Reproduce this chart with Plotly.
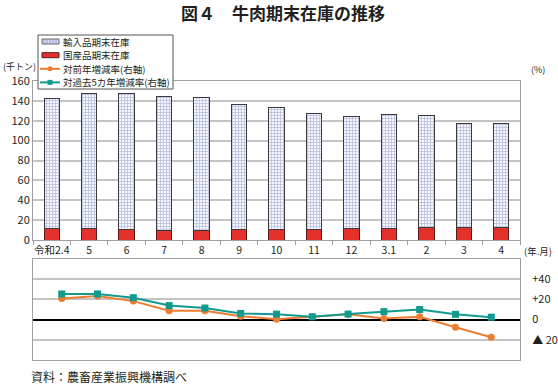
import plotly.graph_objects as go

categories = ["令和2.4", "5", "6", "7", "8", "9", "10", "11", "12", "3.1", "2", "3", "4"]
total_stock = [142, 147.5, 147, 144, 143, 136, 133, 127.5, 124.5, 126.5, 125, 117.5, 117.5]
domestic_stock = [11.5, 11.5, 10.5, 10, 10, 10.5, 10.5, 10.5, 12, 11.5, 12.5, 12.5, 12.5]
import_stock = [round(t - d, 1) for t, d in zip(total_stock, domestic_stock)]
yoy_rate = [21, 23.4, 18.3, 8.8, 8.8, 3.4, 0.3, 2.8, 5.3, 1, 2.8, -7.5, -17.5]
five_year_rate = [25.4, 25.4, 21.7, 13.9, 11.5, 6.1, 5.4, 2.8, 5.5, 7.9, 10, 5.2, 2.4]
left_ticks = [0, 20, 40, 60, 80, 100, 120, 140, 160]
right_tickvals = [40, 20, 0, -20]
right_ticktext = ["+40", "+20", "0", "▲ 20"]
legend_labels = ["輸入品期末在庫", "国産品期末在庫", "対前年増減率(右軸)", "対過去5カ年増減率(右軸)"]

FONT = "Noto Sans CJK JP"
GRID = "#c4c4c4"
TXT = "#231f20"
C_IMP_FG = "#7a83c4"
C_DOM = "#e3312b"
C_YOY = "#ed7d31"
C_5Y = "#139a8f"

W, H = 558, 386
ML, MR, MT, MB = 33, 38, 81, 26
PW, PH = W - ML - MR, H - MT - MB


def px(x):
    return (x - ML) / PW


def py(y):
    return (H - MB - y) / PH


fig = go.Figure()

fig.add_trace(go.Bar(
    x=categories, y=domestic_stock, name=legend_labels[1],
    marker=dict(color=C_DOM, line=dict(color="#5a1a18", width=1)),
    xaxis="x", yaxis="y",
))
fig.add_trace(go.Bar(
    x=categories, y=import_stock, name=legend_labels[0],
    marker=dict(color="white", line=dict(color="#3a3a3a", width=1),
                pattern=dict(shape="+", fgcolor=C_IMP_FG, bgcolor="#f6f7fd", size=3, solidity=0.45)),
    xaxis="x", yaxis="y",
))
fig.add_trace(go.Scatter(
    x=categories, y=yoy_rate, name=legend_labels[2], mode="lines+markers",
    line=dict(color=C_YOY, width=2), marker=dict(symbol="circle", size=7, color=C_YOY),
    xaxis="x2", yaxis="y2",
))
fig.add_trace(go.Scatter(
    x=categories, y=five_year_rate, name=legend_labels[3], mode="lines+markers",
    line=dict(color=C_5Y, width=2), marker=dict(symbol="square", size=7, color=C_5Y),
    xaxis="x2", yaxis="y2",
))

# compact legend box (drawn in paper space)
shapes = [
    dict(type="rect", xref="paper", yref="paper", x0=px(38), x1=px(173), y0=py(89), y1=py(35),
         line=dict(color="#555555", width=1), fillcolor="white", layer="above"),
]
rows = [41.5, 55.2, 68.8, 82.4]
shapes.append(dict(type="rect", xref="paper", yref="paper", x0=px(42), x1=px(59), y0=py(rows[0] + 2.5), y1=py(rows[0] - 2.5),
                   line=dict(color="#666666", width=1), fillcolor="#d9dcf2", layer="above"))
for xx in range(44, 59, 3):
    shapes.append(dict(type="line", xref="paper", yref="paper", x0=px(xx), x1=px(xx), y0=py(rows[0] + 2.5), y1=py(rows[0] - 2.5),
                       line=dict(color=C_IMP_FG, width=0.7), layer="above"))
shapes.append(dict(type="rect", xref="paper", yref="paper", x0=px(42), x1=px(59), y0=py(rows[1] + 2.5), y1=py(rows[1] - 2.5),
                   line=dict(color="#5a1a18", width=1), fillcolor=C_DOM, layer="above"))
for r, c, kind in [(rows[2], C_YOY, "circle"), (rows[3], C_5Y, "rect")]:
    shapes.append(dict(type="line", xref="paper", yref="paper", x0=px(40), x1=px(60), y0=py(r), y1=py(r),
                       line=dict(color=c, width=2), layer="above"))
    shapes.append(dict(type=kind, xref="paper", yref="paper", x0=px(47.5), x1=px(52.5), y0=py(r + 2.5), y1=py(r - 2.5),
                       line=dict(color=c, width=0), fillcolor=c, layer="above"))

annotations = [
    dict(text="<b>図４　牛肉期末在庫の推移</b>", x=px(283), y=py(12), xref="paper", yref="paper",
         xanchor="center", yanchor="middle", showarrow=False, font=dict(size=17, color=TXT)),
    dict(text="(千トン)", x=px(1), y=py(67), xref="paper", yref="paper",
         xanchor="left", yanchor="middle", showarrow=False, font=dict(size=9, color=TXT)),
    dict(text="(%)", x=px(529), y=py(70), xref="paper", yref="paper",
         xanchor="left", yanchor="middle", showarrow=False, font=dict(size=9, color=TXT)),
    dict(text="(年.月)", x=px(522), y=py(251), xref="paper", yref="paper",
         xanchor="left", yanchor="middle", showarrow=False, font=dict(size=9.5, color=TXT)),
    dict(text="資料：農畜産業振興機構調べ", x=px(29), y=py(376), xref="paper", yref="paper",
         xanchor="left", yanchor="middle", showarrow=False, font=dict(size=12, color=TXT)),
]
for r, lab in zip(rows, legend_labels):
    annotations.append(dict(text=lab, x=px(61), y=py(r), xref="paper", yref="paper",
                            xanchor="left", yanchor="middle", showarrow=False, font=dict(size=9.5, color=TXT)))

fig.update_layout(
    width=W, height=H,
    margin=dict(l=ML, r=MR, t=MT, b=MB, autoexpand=False),
    paper_bgcolor="white", plot_bgcolor="white",
    font=dict(family=FONT, size=11, color=TXT),
    barmode="stack", bargap=0.59,
    showlegend=False,
    xaxis=dict(
        domain=[0, 1], anchor="y", type="category", automargin=False,
        showline=True, linecolor="#a0a0a0", linewidth=1, mirror=True,
        ticks="outside", tickson="boundaries", ticklen=4, tickcolor="#a0a0a0",
        tickangle=0, tickfont=dict(size=10.5, color=TXT), showgrid=False,
    ),
    yaxis=dict(
        domain=[py(240), 1], anchor="x", range=[0, 160], automargin=False,
        tickvals=left_ticks, showgrid=True, gridcolor=GRID, gridwidth=1.5,
        showline=True, linecolor="#a0a0a0", linewidth=1, mirror=True,
        ticks="", tickfont=dict(size=11, color=TXT), zeroline=False,
    ),
    xaxis2=dict(
        domain=[0, 1], anchor="y2", type="category", automargin=False,
        showline=True, linecolor="#a0a0a0", linewidth=1, mirror=True,
        showticklabels=False, ticks="", showgrid=False,
    ),
    yaxis2=dict(
        domain=[0, py(259)], anchor="x2", range=[-40, 60], side="right", automargin=False,
        tickvals=right_tickvals, ticktext=right_ticktext,
        showgrid=True, gridcolor=GRID, gridwidth=1.5,
        zeroline=True, zerolinecolor="#000000", zerolinewidth=2,
        showline=True, linecolor="#a0a0a0", linewidth=1, mirror=True,
        ticks="", ticklabelstandoff=9, tickfont=dict(size=11, color=TXT),
    ),
    shapes=shapes,
    annotations=annotations,
)

fig.write_html("out.html", config={"displayModeBar": False},
               post_script="document.body.style.margin='0';document.body.style.overflow='hidden';")
